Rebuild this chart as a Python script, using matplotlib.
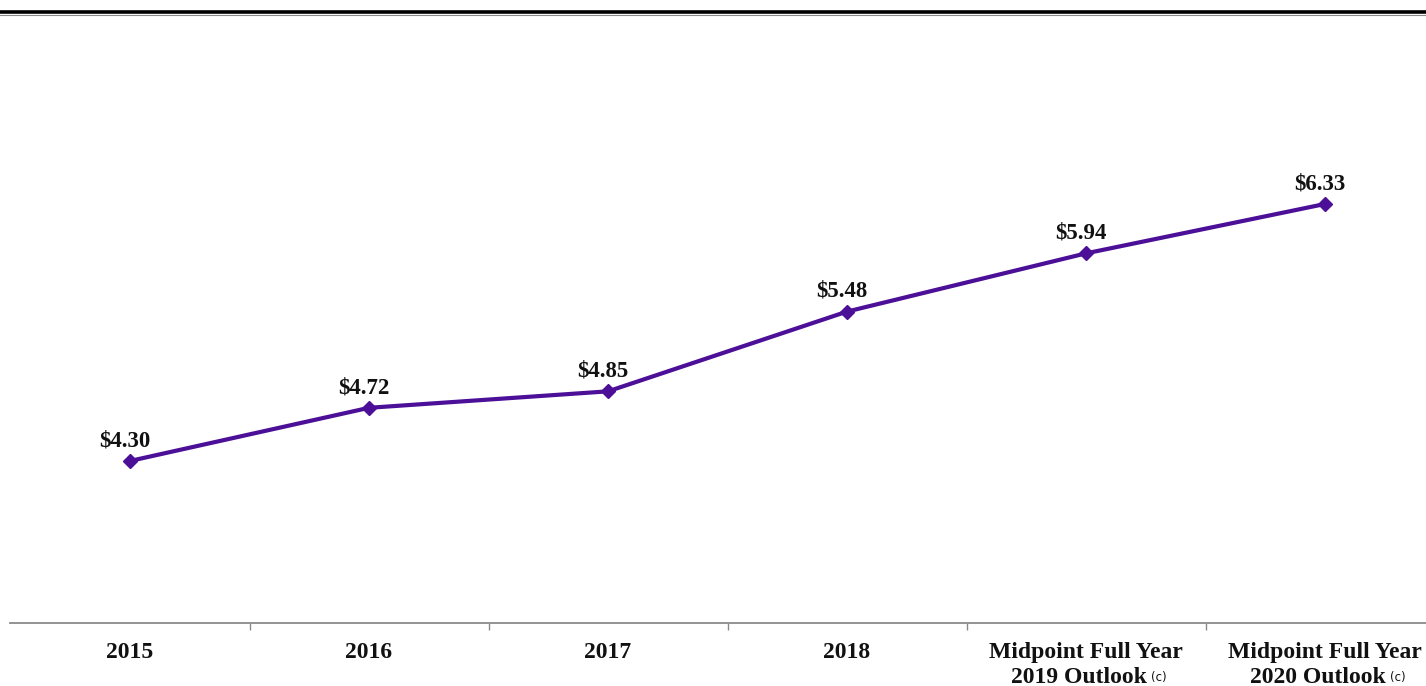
import matplotlib
matplotlib.use("Agg")
import matplotlib.pyplot as plt
from matplotlib.lines import Line2D
from matplotlib.transforms import blended_transform_factory

categories = ["2015", "2016", "2017", "2018",
              "Midpoint Full Year\n2019 Outlook", "Midpoint Full Year\n2020 Outlook"]
footnote = [False, False, False, False, True, True]
values = [4.30, 4.72, 4.85, 5.48, 5.94, 6.33]
value_labels = ["$4.30", "$4.72", "$4.85", "$5.48", "$5.94", "$6.33"]

plt.rcParams['font.family'] = ['Liberation Serif', 'DejaVu Serif']

W, H = 1426, 686
fig = plt.figure(figsize=(W / 100, H / 100), dpi=100)
left_px, right_px = 10.5, 1444.5
bottom_px, top_px = 623, 50
ax = fig.add_axes([left_px / W, (H - bottom_px) / H,
                   (right_px - left_px) / W, (bottom_px - top_px) / H])

purple = "#4c0f98"
x = list(range(len(values)))
ax.plot(x, values, color=purple, lw=3.0, marker="D", markersize=7.5,
        markerfacecolor=purple, markeredgecolor=purple, solid_capstyle="round")

for xi, v, lab in zip(x, values, value_labels):
    ax.annotate(lab, (xi - 0.02, v), xytext=(0, 7), textcoords="offset points",
                ha="center", va="bottom", fontsize=16.5, fontweight="bold", color="#111111")

ax.set_xlim(-0.5, len(values) - 0.5)
ax.set_ylim(3.02, 4.30 + (461 - top_px) / 126.6)

for s in ["top", "right", "left"]:
    ax.spines[s].set_visible(False)
ax.spines["bottom"].set_color("#8a8a8a")
ax.spines["bottom"].set_linewidth(1.3)
ax.set_yticks([])

ax.set_xticks([i + 0.5 for i in range(len(values) - 1)], minor=False)
ax.set_xticklabels([])
ax.tick_params(axis="x", length=5, width=1, color="#8a8a8a", direction="out")

trans = blended_transform_factory(ax.transData, ax.transAxes)
for xi, cat, fn in zip(x, categories, footnote):
    lines = cat.split("\n")
    ax.text(xi, -0.033, lines[0], transform=trans, ha="center", va="top",
            fontsize=17, fontweight="bold", color="#111111")
    if len(lines) > 1:
        t2 = ax.text(xi - 0.03, -0.0775, lines[1], transform=trans, ha="center", va="top",
                     fontsize=17, fontweight="bold", color="#111111")
        if fn:
            ax.annotate("(c)", xy=(1, 0.2), xycoords=t2, xytext=(3, 0),
                        textcoords="offset points", ha="left", va="bottom",
                        fontsize=8.5, color="#111111", family=["DejaVu Sans"])

# top rule
fig.add_artist(Line2D([0, 1], [1 - 11.5 / H, 1 - 11.5 / H], color="black", lw=2.6,
                      transform=fig.transFigure))
fig.add_artist(Line2D([0, 1], [1 - 14.5 / H, 1 - 14.5 / H], color="#888888", lw=0.8,
                      transform=fig.transFigure))

fig.savefig("out.png", dpi=100)
